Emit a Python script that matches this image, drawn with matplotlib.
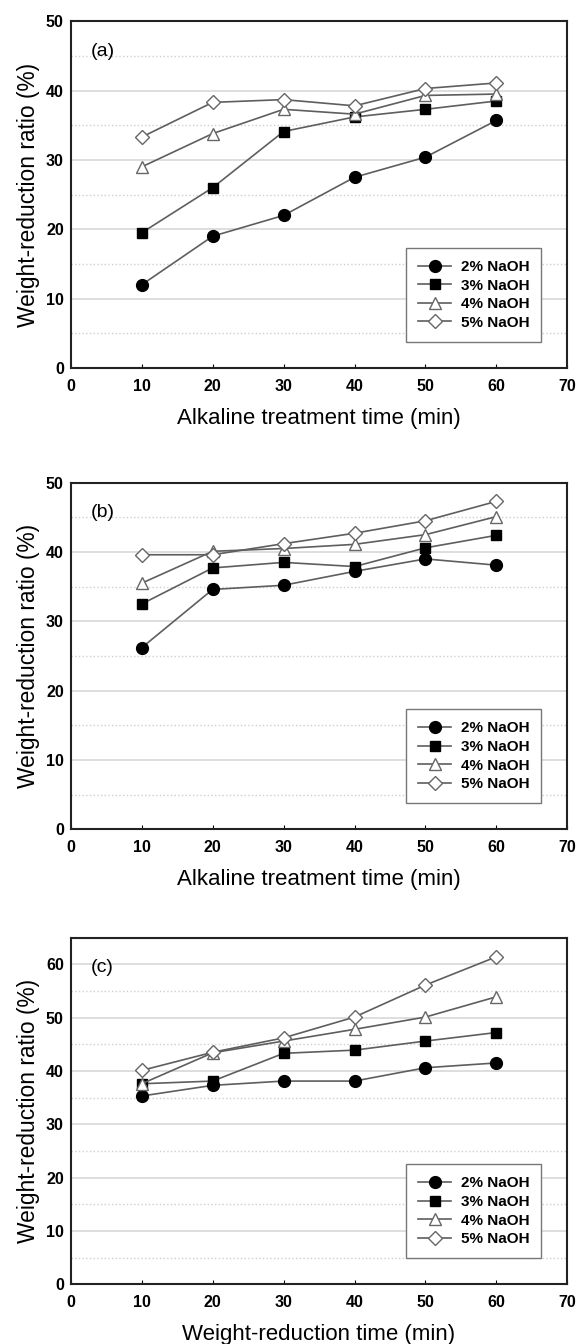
import matplotlib
matplotlib.use("Agg")
import matplotlib.pyplot as plt
from matplotlib.ticker import MultipleLocator

plt.rcParams['font.family'] = ['Liberation Sans', 'DejaVu Sans']

times = [10, 20, 30, 40, 50, 60]
labels = ['2% NaOH', '3% NaOH', '4% NaOH', '5% NaOH']

# panel (a)
a_2 = [12.0, 19.0, 22.0, 27.5, 30.4, 35.7]
a_3 = [19.5, 26.0, 34.1, 36.2, 37.3, 38.5]
a_4 = [29.0, 33.8, 37.3, 36.6, 39.3, 39.5]
a_5 = [33.3, 38.3, 38.7, 37.8, 40.3, 41.1]

# panel (b)
b_2 = [26.2, 34.6, 35.2, 37.2, 39.0, 38.1]
b_3 = [32.5, 37.7, 38.5, 37.9, 40.6, 42.4]
b_4 = [35.5, 40.1, 40.5, 41.1, 42.5, 45.1]
b_5 = [39.6, 39.6, 41.2, 42.7, 44.5, 47.3]

# panel (c)
c_2 = [35.3, 37.3, 38.1, 38.1, 40.6, 41.5]
c_3 = [37.6, 38.1, 43.3, 43.9, 45.6, 47.2]
c_4 = [37.6, 43.4, 45.6, 47.8, 50.1, 53.9]
c_5 = [40.1, 43.5, 46.2, 50.1, 56.1, 61.4]

panels = [
    ('(a)', [a_2, a_3, a_4, a_5], 50, 'Alkaline treatment time (min)'),
    ('(b)', [b_2, b_3, b_4, b_5], 50, 'Alkaline treatment time (min)'),
    ('(c)', [c_2, c_3, c_4, c_5], 65, 'Weight-reduction time (min)'),
]

styles = [
    dict(marker='o', markersize=8.5, markerfacecolor='black', markeredgecolor='black'),
    dict(marker='s', markersize=7, markerfacecolor='black', markeredgecolor='black'),
    dict(marker='^', markersize=8.5, markerfacecolor='white', markeredgecolor='#666666'),
    dict(marker='D', markersize=7.5, markerfacecolor='white', markeredgecolor='#666666'),
]

fig = plt.figure(figsize=(5.78, 13.44), dpi=100)
bottoms = [0.7262, 0.3829, 0.0444]

for (tag, series, ymax, xlabel), bot in zip(panels, bottoms):
    ax = fig.add_axes([0.1225, bot, 0.859, 0.258])
    for vals, lab, st in zip(series, labels, styles):
        ax.plot(times, vals, color='#5e5e5e', linewidth=1.2, label=lab,
                markeredgewidth=1.0, zorder=3, **st)
    ax.set_xlim(0, 70)
    ax.set_ylim(0, ymax)
    ax.xaxis.set_major_locator(MultipleLocator(10))
    ax.yaxis.set_major_locator(MultipleLocator(10))
    ax.yaxis.set_minor_locator(MultipleLocator(5))
    ax.grid(which='major', axis='y', color='#d8d8d8', linewidth=1.2, zorder=0)
    ax.grid(which='minor', axis='y', color='#cfcfcf', linewidth=1.0, linestyle=':', zorder=0)
    ax.tick_params(axis='x', direction='in', length=3, width=0.8, pad=8)
    ax.tick_params(axis='y', which='both', length=0, pad=5)
    for t in ax.get_xticklabels() + ax.get_yticklabels():
        t.set_fontweight('bold')
        t.set_fontsize(11.5)
    for side in ['left', 'bottom', 'right', 'top']:
        ax.spines[side].set_linewidth(1.5)
        ax.spines[side].set_color('#222222')
    ax.set_ylabel('Weight-reduction ratio (%)', fontsize=16.4, labelpad=4)
    ax.set_xlabel(xlabel, fontsize=16, labelpad=10)
    ax.text(0.04, 0.913, tag, transform=ax.transAxes, fontsize=14, va='center', ha='left')
    leg = ax.legend(loc='lower right', bbox_to_anchor=(0.948, 0.075), fancybox=False,
                    edgecolor='#777777', framealpha=1, handlelength=2.2, handletextpad=0.6,
                    prop={'weight': 'bold', 'size': 11}, borderpad=0.8, labelspacing=0.3,
                    borderaxespad=0)
    leg.get_frame().set_linewidth(1.0)

fig.savefig('out.png', dpi=100)
